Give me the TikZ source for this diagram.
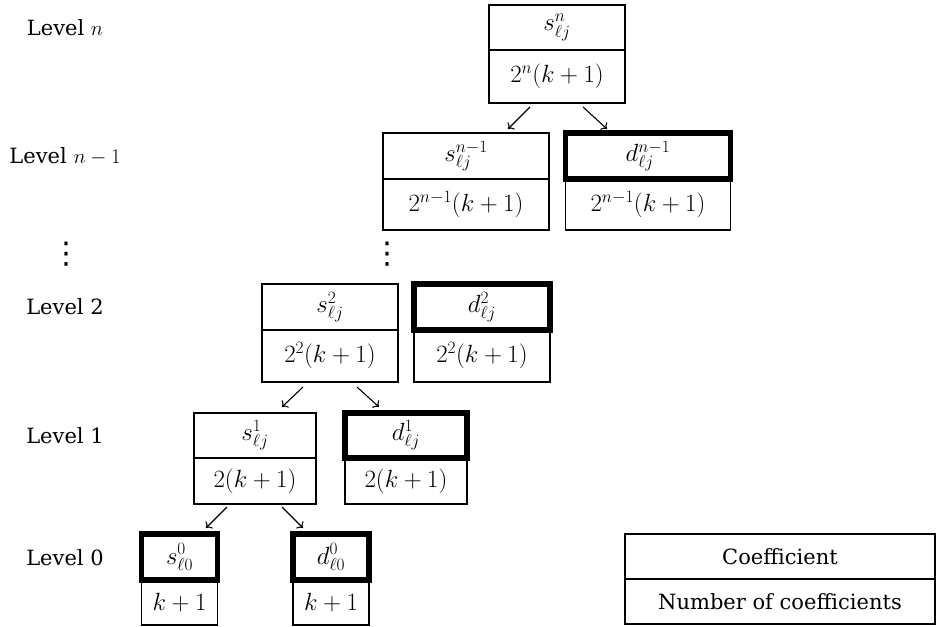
\documentclass[tikz,border=0pt]{standalone}
\usepackage{fontspec}
\setmainfont{DejaVu Serif}
\newfontfamily\symfont{DejaVu Sans}
\usetikzlibrary{calc,arrows.meta}
\begin{document}
\begin{tikzpicture}[x=1pt,y=-1pt,
  every node/.style={font=\fontsize{25}{29}\selectfont},
  txt/.style={font=\fontsize{21}{25}\selectfont},
  cell/.style={draw, rectangle, line width=1.1pt, inner sep=0pt, outer sep=0pt},
  coef/.style={cell},
  hcoef/.style={cell, line width=5.5pt},
  lvl/.style={inner sep=0pt, txt},
  vdot/.style={inner sep=0pt, font=\symfont\fontsize{30}{30}\selectfont},
  arr/.style={-{To[length=5pt,width=10pt]}, line width=1.1pt}]
\useasboundingbox (0,0) rectangle (936,626);

% Level labels
\node[lvl] (Ln)  at (65,27.5) {Level $n$};
\node[lvl] (Ln1) at (65,156) {Level $n-1$};
\node[vdot] (Ld)  at (66,254) {⋮};
\node[lvl] (L2)  at (65,307) {Level 2};
\node[lvl] (L1)  at (65,436) {Level 1};
\node[lvl] (L0)  at (65,558) {Level 0};

% Level n
\node[cell, minimum width=136, minimum height=53] (tc) at (557,76.5) {$2^n(k+1)$};
\node[coef, minimum width=136, minimum height=45] (ts) at (557,27.5) {$s^{n}_{\ell j}$};

% Level n-1
\node[cell, minimum width=166, minimum height=51] (s1c) at (466,204.5) {$2^{n-1}(k+1)$};
\node[coef, minimum width=166, minimum height=46] (s1s) at (466,156) {$s^{n-1}_{\ell j}$};
\node[cell, minimum width=165, minimum height=51] (d1c) at (648,204.5) {$2^{n-1}(k+1)$};
\node[hcoef, minimum width=165, minimum height=46] (d1s) at (648,156) {$d^{n-1}_{\ell j}$};

\node[vdot] (Md) at (387,254) {⋮};

% Level 2
\node[cell, minimum width=136, minimum height=52] (s2c) at (330,356) {$2^2(k+1)$};
\node[coef, minimum width=136, minimum height=46] (s2s) at (330,307) {$s^{2}_{\ell j}$};
\node[cell, minimum width=136, minimum height=52] (d2c) at (482,356) {$2^2(k+1)$};
\node[hcoef, minimum width=136, minimum height=46] (d2s) at (482,307) {$d^{2}_{\ell j}$};

% Level 1
\node[cell, minimum width=122, minimum height=46] (s3c) at (255,481) {$2(k+1)$};
\node[coef, minimum width=122, minimum height=45] (s3s) at (255,435.5) {$s^{1}_{\ell j}$};
\node[cell, minimum width=122, minimum height=46] (d3c) at (406,481) {$2(k+1)$};
\node[hcoef, minimum width=122, minimum height=45] (d3s) at (406,435.5) {$d^{1}_{\ell j}$};

% Level 0
\node[cell, minimum width=76, minimum height=45] (s4c) at (179.5,602.5) {$k+1$};
\node[hcoef, minimum width=76, minimum height=46] (s4s) at (179.5,557) {$s^{0}_{\ell 0}$};
\node[cell, minimum width=76, minimum height=45] (d4c) at (331,602.5) {$k+1$};
\node[hcoef, minimum width=76, minimum height=46] (d4s) at (331,557) {$d^{0}_{\ell 0}$};

% Legend
\node[cell, txt, minimum width=310, minimum height=45] (gc) at (780,601.5) {Number of coefficients};
\node[coef, txt, minimum width=310, minimum height=45] (gs) at (780,556.5) {Coefficient};

% Arrows
\draw[arr] ($(tc.south)+(-27,4)$) -- ($(s1s.north)+(42,-4)$);
\draw[arr] ($(tc.south)+(26,4)$) -- ($(d1s.north)+(-41,-4)$);
\draw[arr] ($(s2c.south)+(-27,5)$) -- ($(s3s.north)+(27,-6)$);
\draw[arr] ($(s2c.south)+(27,5)$) -- ($(d3s.north)+(-27,-6)$);
\draw[arr] ($(s3c.south)+(-28,3)$) -- ($(s4s.north)+(26.5,-6)$);
\draw[arr] ($(s3c.south)+(27,3)$) -- ($(d4s.north)+(-28,-6)$);
\end{tikzpicture}
\end{document}
